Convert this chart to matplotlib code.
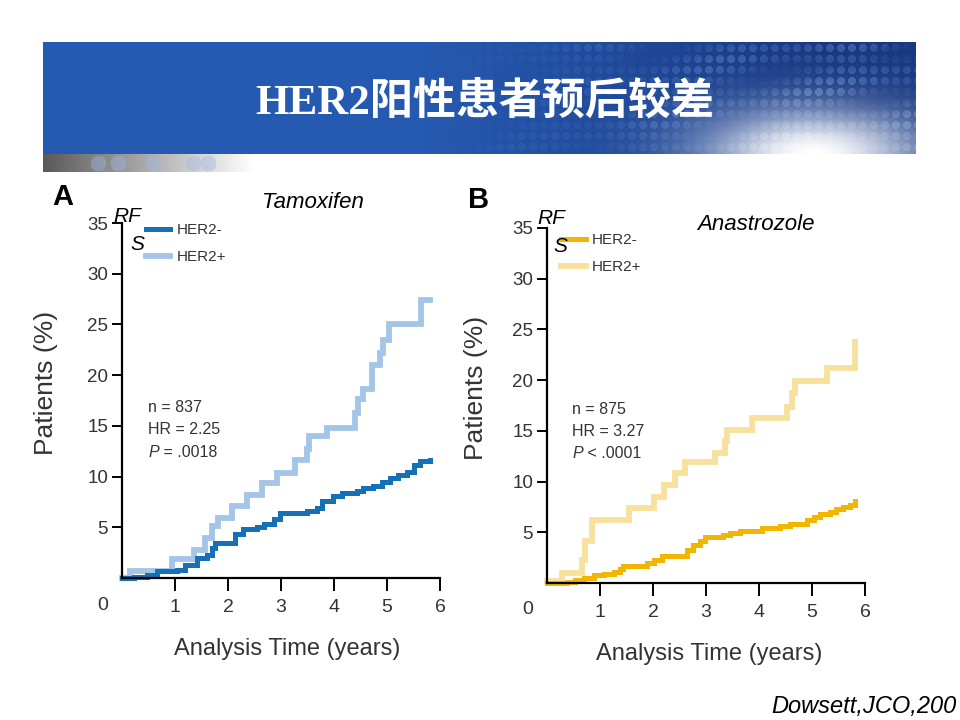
import matplotlib
matplotlib.use("Agg")
import matplotlib.pyplot as plt
import numpy as np

# Panel A (Tamoxifen): step times (years) and % patients
tam_neg_t = [0.0, 0.22, 0.47, 0.66, 1.04, 1.19, 1.41, 1.60, 1.70, 1.76, 2.14, 2.29, 2.54,
             2.67, 2.86, 2.98, 3.49, 3.67, 3.77, 3.99, 4.15, 4.43, 4.55, 4.74, 4.90,
             5.06, 5.21, 5.37, 5.50, 5.62, 5.81]
tam_neg_y = [0.0, 0.1, 0.3, 0.66, 0.8, 1.3, 2.0, 2.3, 3.0, 3.5, 4.3, 4.8, 5.0,
             5.3, 5.8, 6.4, 6.6, 6.9, 7.6, 8.1, 8.4, 8.6, 8.9, 9.1, 9.5,
             9.9, 10.2, 10.5, 11.1, 11.5, 11.6]
tam_pos_t = [0.0, 0.16, 0.94, 1.35, 1.57, 1.70, 1.82, 2.07, 2.36, 2.64, 2.92, 3.27, 3.49,
             3.52, 3.86, 4.40, 4.46, 4.55, 4.71, 4.87, 4.93, 5.03, 5.65, 5.81]
tam_pos_y = [0.0, 0.66, 1.9, 2.8, 3.9, 5.1, 5.9, 7.1, 8.2, 9.4, 10.4, 11.6, 12.7,
             14.0, 14.8, 16.3, 17.6, 18.6, 21.0, 22.2, 23.5, 25.0, 27.4, 27.4]

# Panel B (Anastrozole)
ana_neg_t = [0.0, 0.38, 0.53, 0.69, 0.88, 1.07, 1.26, 1.38, 1.44, 1.88, 2.01, 2.17, 2.64,
             2.76, 2.89, 2.98, 3.33, 3.45, 3.64, 4.05, 4.40, 4.59, 4.90, 5.03, 5.15,
             5.34, 5.46, 5.59, 5.72, 5.81]
ana_neg_y = [0.0, 0.1, 0.3, 0.5, 0.8, 0.9, 1.1, 1.4, 1.7, 2.0, 2.3, 2.7, 3.3,
             3.7, 4.1, 4.5, 4.7, 4.9, 5.1, 5.4, 5.6, 5.8, 6.2, 6.5, 6.8,
             7.0, 7.3, 7.5, 7.7, 8.1]
ana_pos_t = [0.0, 0.28, 0.66, 0.72, 0.85, 1.54, 2.01, 2.20, 2.42, 2.61, 3.17, 3.36, 3.39,
             3.86, 4.52, 4.62, 4.68, 5.28, 5.81, 5.81]
ana_pos_y = [0.15, 1.0, 2.3, 4.1, 6.2, 7.4, 8.5, 9.7, 10.8, 11.9, 12.8, 14.0, 15.1,
             16.3, 17.4, 18.7, 19.9, 21.2, 21.2, 23.8]

x_ticks = [1, 2, 3, 4, 5, 6]
y_ticks = [5, 10, 15, 20, 25, 30, 35]

NARROW = ["Liberation Sans Narrow", "Liberation Sans", "DejaVu Sans"]
SANS = ["Liberation Sans", "DejaVu Sans"]

fig = plt.figure(figsize=(9.6, 7.2), dpi=100)
W, H = 960, 720


def px(x, y):
    return x / W, 1 - y / H


# ---- banner --------------------------------------------------------------
bh, bw = 130, 873
yy, xx = np.mgrid[0:bh, 0:bw].astype(float)
img = np.zeros((bh, bw, 3))
base = np.array([38, 90, 176]) / 255.0
navy = np.array([24, 56, 130]) / 255.0
mix = np.clip((xx - 380) / 400, 0, 1)[..., None]
img[:] = base * (1 - mix) + navy * mix
# dotted pattern on the right
cx = (xx % 11) - 5.5
cy = (yy % 11) - 5.5
dot = (cx ** 2 + cy ** 2) < 16
light = 0.5 + 0.5 * np.sin(xx * 0.037 + yy * 0.09) * np.cos(xx * 0.011 - yy * 0.05)
dot_amt = dot * np.clip((xx - 400) / 350, 0, 1) * light * 0.45
img = img * (1 - dot_amt[..., None]) + np.array([0.45, 0.62, 0.88]) * dot_amt[..., None]
# glow
g = np.exp(-(((xx - 770) / 110) ** 2 + ((yy - 112) / 45) ** 2))
img = img * (1 - g[..., None]) + g[..., None]
# grey strip at the bottom, with a few pale dots
strip = yy >= 112
sfade = np.clip(xx / 210, 0, 1)
grey = (0.35 + 0.65 * sfade)[..., None] * np.ones(3)
sdot = np.zeros_like(xx)
for cxx in [55, 75, 110, 150, 165]:
    sdot += ((xx - cxx) ** 2 + (yy - 121) ** 2) < 64
sdot = np.clip(sdot, 0, 1) * 0.4
grey = grey * (1 - sdot[..., None]) + np.array([0.62, 0.72, 0.9]) * sdot[..., None]
img = np.where(strip[..., None], grey, img)
img = np.clip(img, 0, 1)

bax = fig.add_axes([43 / W, 1 - 172 / H, bw / W, bh / H])
bax.imshow(img, aspect="auto", interpolation="bilinear")
bax.axis("off")
fig.text(485 / W, 1 - 102 / H, "HER2阳性患者预后较差", color="white", fontsize=31,
         fontweight="bold", family=["Liberation Serif", "Noto Sans CJK SC"],
         ha="center", va="center")


def panel(rect, neg_t, neg_y, pos_t, pos_y, c_neg, c_pos, stats):
    ax = fig.add_axes(rect)
    ax.step(pos_t, pos_y, where="post", color=c_pos, lw=4.2, clip_on=False,
            label="HER2+", solid_joinstyle="miter")
    ax.step(neg_t, neg_y, where="post", color=c_neg, lw=3.6, clip_on=False,
            label="HER2-", solid_joinstyle="miter")
    ax.set_xlim(0, 6)
    ax.set_ylim(0, 35)
    for s in ["top", "right"]:
        ax.spines[s].set_visible(False)
    for s in ["left", "bottom"]:
        ax.spines[s].set_linewidth(1.6)
    ax.set_xticks(x_ticks)
    ax.set_yticks(y_ticks)
    ax.tick_params(axis="x", length=9, width=1.4, pad=6, labelsize=14)
    ax.tick_params(axis="y", length=7, width=1.4, pad=3, labelsize=13.5)
    for lab in ax.get_xticklabels() + ax.get_yticklabels():
        lab.set_family(NARROW)
        lab.set_color("#333333")
    ax.set_ylabel("Patients (%)", fontsize=19, family=SANS, color="#333333")
    ax.set_xlabel("Analysis Time (years)", fontsize=17, family=NARROW, color="#333333")
    h, l = ax.get_legend_handles_labels()
    leg = ax.legend(h[::-1], l[::-1], loc="upper left", frameon=False, borderpad=0,
                    borderaxespad=0, handlelength=1.6, handletextpad=0.4,
                    labelspacing=0.85, prop={"family": NARROW, "size": 11})
    for t in leg.get_texts():
        t.set_color("#333333")
    n_txt, hr_txt, p_txt, ys, xa = stats
    ax.text(xa, ys[0], n_txt, fontsize=11.5, family=NARROW, color="#333333",
            va="center", transform=ax.get_yaxis_transform())
    ax.text(xa, ys[1], hr_txt, fontsize=11.5, family=NARROW, color="#333333",
            va="center", transform=ax.get_yaxis_transform())
    pt = ax.text(xa, ys[2], "P", fontsize=11.5, family=NARROW, style="italic",
                 color="#333333", va="center", transform=ax.get_yaxis_transform())
    ax.annotate(p_txt, xy=(1, 0.5), xycoords=pt, va="center", fontsize=11.5,
                family=NARROW, color="#333333")
    return ax, leg


axA, legA = panel([122 / W, 1 - 578 / H, 318 / W, 355 / H],
                  tam_neg_t, tam_neg_y, tam_pos_t, tam_pos_y,
                  "#1570b5", "#a4c5e7",
                  ("n = 837", "HR = 2.25", " = .0018", [16.8, 14.6, 12.4], 0.082))
legA.set_bbox_to_anchor((0.075, 1.0), transform=axA.transAxes)
axA.yaxis.set_label_coords(-0.2, 0.55)
axA.xaxis.set_label_coords(0.52, -0.17)

axB, legB = panel([547 / W, 1 - 583 / H, 318 / W, 355 / H],
                  ana_neg_t, ana_neg_y, ana_pos_t, ana_pos_y,
                  "#f2b600", "#f7e19c",
                  ("n = 875", "HR = 3.27", " < .0001", [17.1, 14.9, 12.8], 0.079))
legB.set_bbox_to_anchor((0.045, 0.985), transform=axB.transAxes)
axB.yaxis.set_label_coords(-0.186, 0.55)
axB.xaxis.set_label_coords(0.51, -0.17)

# origin labels
for (x, y) in [(103, 606), (528, 610)]:
    fig.text(*px(x, y), "0", ha="center", va="center", fontsize=14,
             family=NARROW, color="#333333")

# panel letters and headings
fig.text(*px(52, 205), "A", fontsize=21, fontweight="bold", family=NARROW, va="baseline")
fig.text(*px(468, 208), "B", fontsize=21, fontweight="bold", family=NARROW, va="baseline")
fig.text(*px(262, 208), "Tamoxifen", fontsize=16, style="italic", family=SANS, va="baseline")
fig.text(*px(697, 230), "Anastrozole", fontsize=16, style="italic", family=SANS, va="baseline")
for (x1, x2, yb) in [(113, 130, 222), (537, 553, 224)]:
    fig.text(*px(x1, yb), "RF", fontsize=15, style="italic", family=SANS, va="baseline")
    fig.text(*px(x2, yb + 28), "S", fontsize=15, style="italic", family=SANS, va="baseline")

# citation: the reference shows it running off the slide edge, keep it inside
fig.text(*px(957, 713), "Dowsett,JCO,200", fontsize=17, style="italic", family=SANS,
         va="baseline", ha="right")

fig.savefig("out.png", dpi=100)
